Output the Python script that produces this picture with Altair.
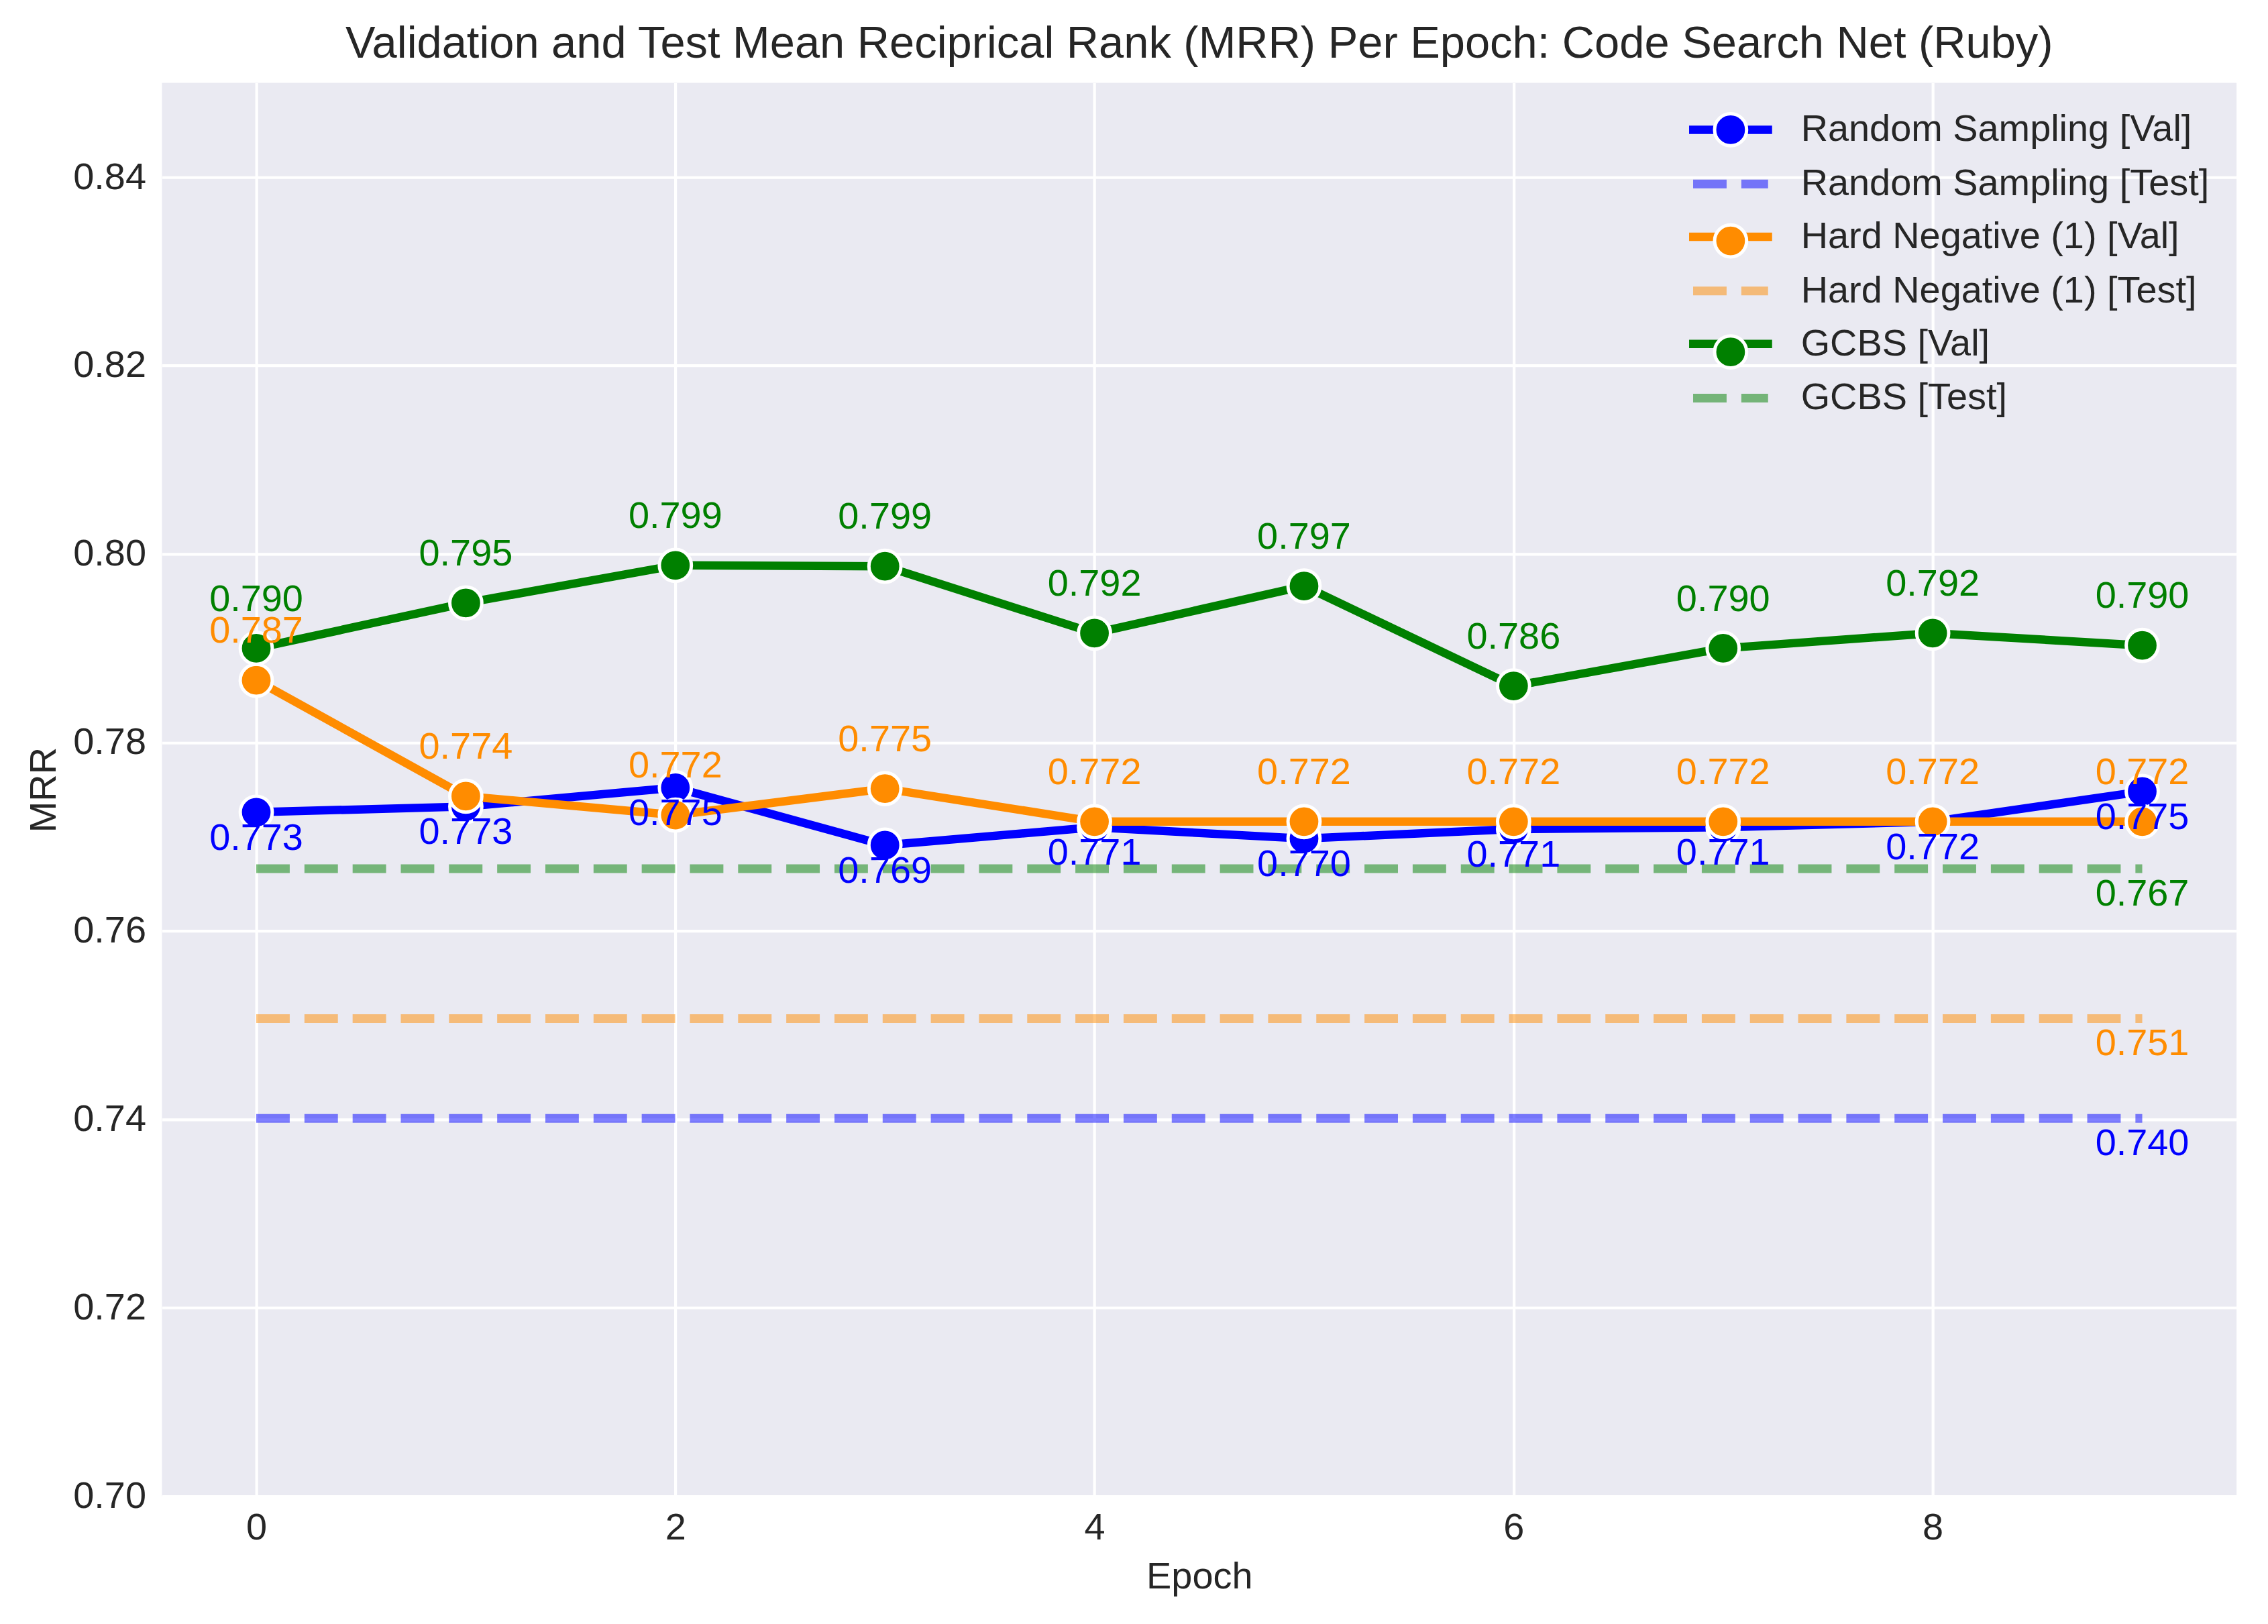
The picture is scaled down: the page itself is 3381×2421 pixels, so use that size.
import altair as alt
import pandas as pd

# ---------------- data ----------------
epochs = list(range(10))
val_names = ["Random Sampling [Val]", "Hard Negative (1) [Val]", "GCBS [Val]"]
test_names = ["Random Sampling [Test]", "Hard Negative (1) [Test]", "GCBS [Test]"]
point_keys = ["rs", "hn", "gc"]
series_colors = ["#0000ff", "#ff8c00", "#008000"]

random_val = [0.7726, 0.7732, 0.7752, 0.7691, 0.7710, 0.7698, 0.7708, 0.7710, 0.7716, 0.7748]
hard_val = [0.7866, 0.7743, 0.7723, 0.7751, 0.7716, 0.7716, 0.7716, 0.7716, 0.7716, 0.7716]
gcbs_val = [0.7900, 0.7948, 0.7988, 0.7987, 0.7916, 0.7966, 0.7860, 0.7900, 0.7916, 0.7903]

random_test = 0.7401
hard_test = 0.7507
gcbs_test = 0.7666

x_ticks = [0, 2, 4, 6, 8]
y_ticks = [0.70, 0.72, 0.74, 0.76, 0.78, 0.80, 0.82, 0.84]

vals_all = [random_val, hard_val, gcbs_val]
tests_all = [random_test, hard_test, gcbs_test]

val_rows = []
test_rows = []
for vname, tname, pkey, vals, tval in zip(val_names, test_names, point_keys, vals_all, tests_all):
    for e, v in zip(epochs, vals):
        val_rows.append({"series": vname, "pkey": pkey, "epoch": e, "mrr": v})
    test_rows.append({"series": tname, "start": epochs[0], "end": epochs[-1], "mrr": tval})
val_df = pd.DataFrame(val_rows)
test_df = pd.DataFrame(test_rows)

# ---------------- styling ----------------
FONT = "Liberation Sans"
TXT = "#262626"
FS = 56
LFS = 56

x_scale = alt.Scale(domain=[-0.45, 9.45], nice=False, zero=False)
y_scale = alt.Scale(domain=[0.70, 0.85], nice=False, zero=False)
stroke_scale = alt.Scale(domain=val_names, range=series_colors)
fill_scale = alt.Scale(domain=point_keys, range=series_colors)
test_scale = alt.Scale(domain=test_names, range=series_colors)

x_axis = alt.Axis(values=x_ticks, format="d", title="Epoch", labelPadding=20, labelFlush=False,
                  titleX=1550, titleY=137, titleBaseline="alphabetic")
y_axis = alt.Axis(values=y_ticks, format=".2f", title="MRR", labelPadding=24,
                  titleX=-159, titleY=1056, titleBaseline="alphabetic", titleAngle=270)

ROW = 160
# legend for validation lines (visible labels)
leg_val = alt.Legend(
    title=None, orient="none", legendX=2316, legendY=42, padding=0,
    symbolType="M-3.1,0H3.1", symbolSize=1600, symbolStrokeWidth=12.5,
    symbolFillColor="transparent", symbolOpacity=1,
    labelFont=FONT, labelFontSize=LFS, labelColor=TXT, labelOffset=77, labelLimit=2000,
    rowPadding=ROW - LFS,
)
# legend for validation markers (circles, hidden labels)
leg_pts = alt.Legend(
    title=None, orient="none", legendX=2313, legendY=39, padding=0,
    symbolType="circle", symbolSize=2290, symbolStrokeColor="white", symbolStrokeWidth=5,
    symbolOpacity=1,
    labelFont=FONT, labelFontSize=62, labelOpacity=0, labelOffset=10, labelLimit=2000,
    rowPadding=ROW - 62,
)
# legend for test lines (dashed)
leg_test = alt.Legend(
    title=None, orient="none", legendX=2316, legendY=123, padding=0,
    symbolType="M-2.8,0H2.8", symbolSize=1600, symbolStrokeWidth=13,
    symbolDash=[50, 22], symbolFillColor="transparent", symbolOpacity=0.5,
    labelFont=FONT, labelFontSize=LFS, labelColor=TXT, labelOffset=77, labelLimit=2000,
    rowPadding=ROW - LFS,
)

layers = []
for vname, tname, pkey in zip(val_names, test_names, point_keys):
    base = alt.Chart(val_df).transform_filter(alt.datum.series == vname)
    line = base.mark_line(strokeWidth=12.5, strokeJoin="round").encode(
        x=alt.X("epoch:Q", scale=x_scale, axis=x_axis),
        y=alt.Y("mrr:Q", scale=y_scale, axis=y_axis),
        stroke=alt.Stroke("series:N", scale=stroke_scale, legend=leg_val),
    )
    pts = base.mark_point(filled=True, size=2290, stroke="white", strokeWidth=5, opacity=1).encode(
        x=alt.X("epoch:Q", scale=x_scale),
        y=alt.Y("mrr:Q", scale=y_scale),
        fill=alt.Fill("pkey:N", scale=fill_scale, legend=leg_pts),
    )
    rule = alt.Chart(test_df).transform_filter(alt.datum.series == tname).mark_rule(
        strokeWidth=13, strokeDash=[50, 22], opacity=0.5, strokeCap="butt"
    ).encode(
        x=alt.X("start:Q", scale=x_scale),
        x2="end:Q",
        y=alt.Y("mrr:Q", scale=y_scale),
        color=alt.Color("series:N", scale=test_scale, legend=leg_test),
    )
    layers += [line, pts, rule]

# value labels
for i, (vname, col) in enumerate(zip(val_names, series_colors)):
    dy = 56 if i == 0 else -56
    lab = alt.Chart(val_df).transform_filter(alt.datum.series == vname).mark_text(
        dy=dy, baseline="alphabetic", align="center", font=FONT, fontSize=56, color=col
    ).encode(
        x=alt.X("epoch:Q", scale=x_scale),
        y=alt.Y("mrr:Q", scale=y_scale),
        text=alt.Text("mrr:Q", format=".3f"),
    )
    layers.append(lab)

for tname, col in zip(test_names, series_colors):
    tlab = alt.Chart(test_df).transform_filter(alt.datum.series == tname).mark_text(
        dy=55, baseline="alphabetic", align="center", font=FONT, fontSize=56, color=col
    ).encode(
        x=alt.X("end:Q", scale=x_scale),
        y=alt.Y("mrr:Q", scale=y_scale),
        text=alt.Text("mrr:Q", format=".3f"),
    )
    layers.append(tlab)

chart = alt.layer(*layers).properties(
    width=3100,
    height=2112,
    padding={"left": 234, "top": 113, "right": 39, "bottom": 188},
    autosize=alt.AutoSizeParams(type="none"),
    title=alt.TitleParams(
        "Validation and Test Mean Reciprical Rank (MRR) Per Epoch: Code Search Net (Ruby)",
        font=FONT, fontSize=67, fontWeight="normal", color=TXT, anchor="middle",
        baseline="alphabetic", offset=33, dy=62, frame="group",
    ),
).configure(
    font=FONT, background="white"
).configure_view(
    fill="#EAEAF2", strokeWidth=0
).configure_axis(
    domain=False, ticks=False, grid=True, gridColor="white", gridWidth=4.2,
    labelFont=FONT, labelFontSize=FS, labelColor=TXT,
    titleFont=FONT, titleFontSize=FS, titleFontWeight="normal", titleColor=TXT,
)

chart.save("out.html", embed_options={"renderer": "svg", "actions": False})
